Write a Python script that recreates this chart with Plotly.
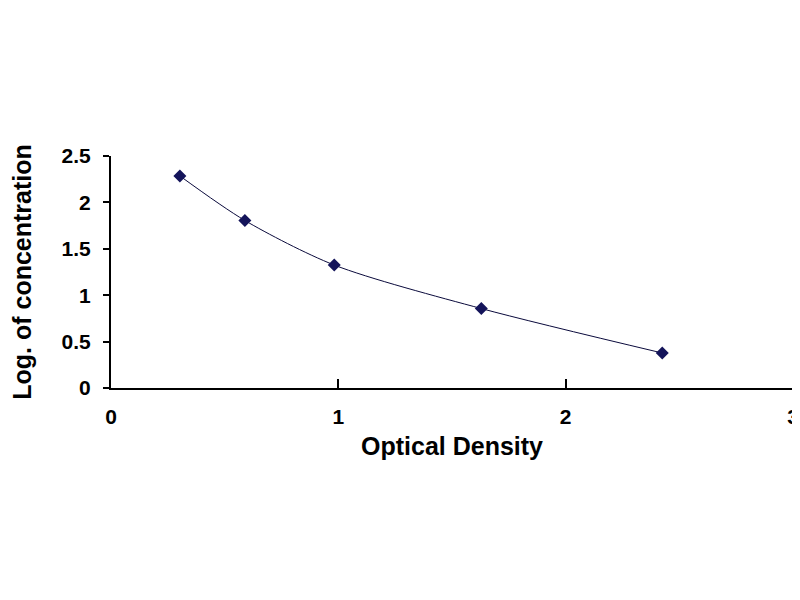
import plotly.graph_objects as go

# standard curve points
optical_density = [0.303, 0.589, 0.982, 1.629, 2.425]
log_concentration = [2.285, 1.805, 1.325, 0.856, 0.377]

x_ticks = [0, 1, 2, 3]
y_ticks = [0, 0.5, 1, 1.5, 2, 2.5]
y_tick_text = ["0", "0.5", "1", "1.5", "2", "2.5"]

FONT = "Liberation Sans"

fig = go.Figure()
fig.add_trace(
    go.Scatter(
        x=optical_density, y=log_concentration,
        mode="lines+markers",
        line=dict(color="#0a0a3c", width=1, shape="spline", smoothing=0.8),
        marker=dict(symbol="diamond", size=10, color="#14145a"),
        showlegend=False,
    )
)

# the page body adds 8px around the figure, so the figure is a bit smaller
# (keeps the page from getting scrollbars)
fig.update_layout(
    width=792, height=584,
    margin=dict(l=103, r=7, t=148, b=204),
    paper_bgcolor="white", plot_bgcolor="white",
    font=dict(family=FONT, color="black"),
)
fig.update_xaxes(
    range=[0, 3], tickvals=x_ticks, ticktext=[str(v) for v in x_ticks],
    showgrid=False, zeroline=False, automargin=False,
    showline=True, linecolor="black", linewidth=2,
    ticks="inside", ticklen=9, tickwidth=2, tickcolor="black",
    ticklabelstandoff=9, ticklabeloverflow="allow",
    tickfont=dict(family=FONT, size=21, color="black", weight="bold"),
    title=dict(text="<b>Optical Density</b>", font=dict(family=FONT, size=25), standoff=10),
)
fig.update_yaxes(
    range=[0, 2.5], tickvals=y_ticks, ticktext=y_tick_text,
    showgrid=False, zeroline=False, automargin=False,
    showline=True, linecolor="black", linewidth=2,
    ticks="outside", ticklen=6, tickwidth=2, tickcolor="black",
    ticklabelstandoff=8,
    tickfont=dict(family=FONT, size=21, color="black", weight="bold"),
    title=dict(text="<b>Log. of concentration</b>", font=dict(family=FONT, size=25), standoff=23),
)

fig.write_html("out.html")
